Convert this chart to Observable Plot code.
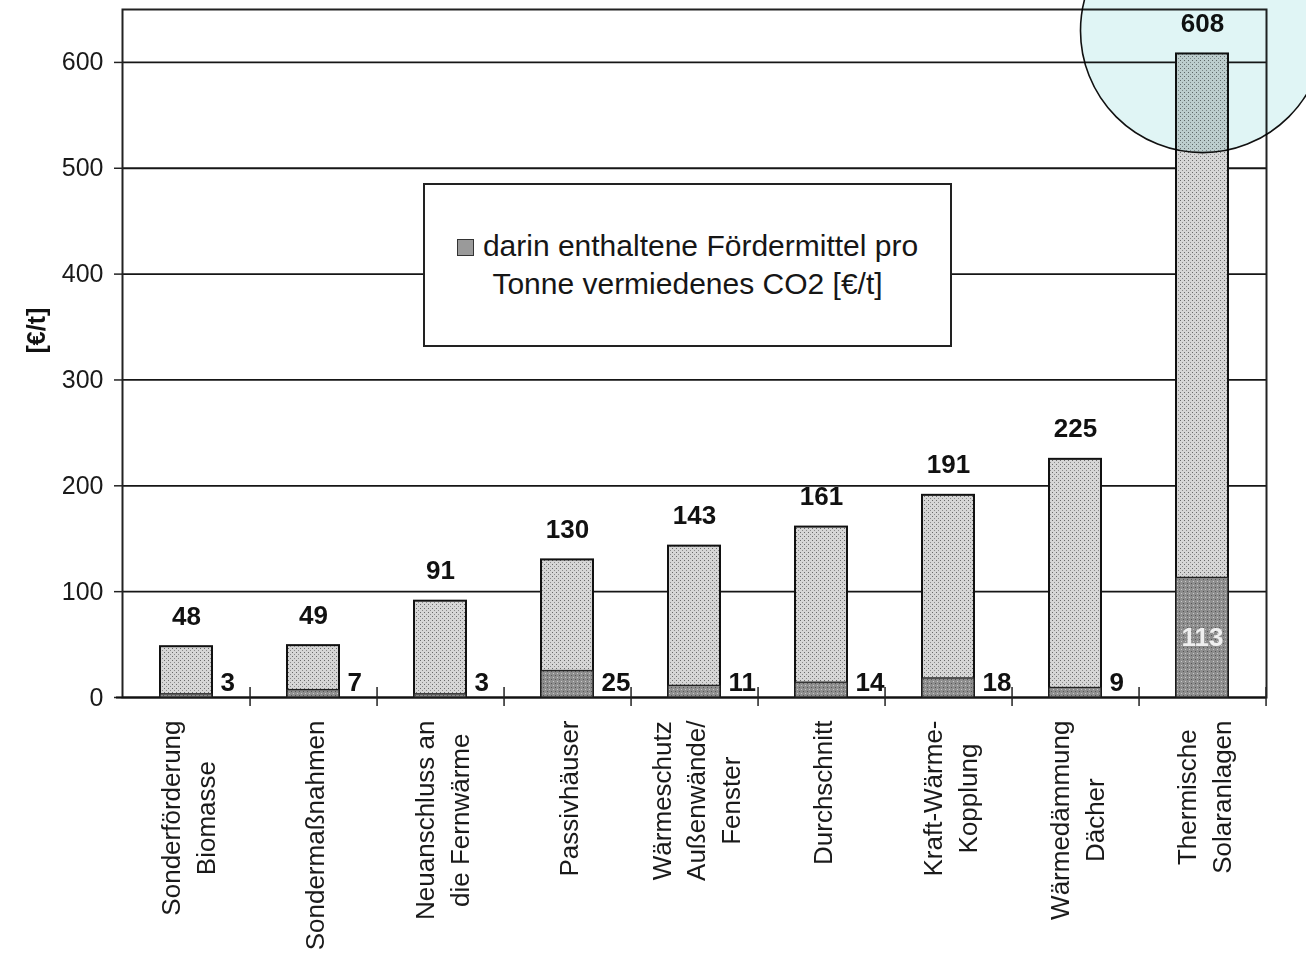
<!DOCTYPE html>
<html><head><meta charset="utf-8">
<script src="https://cdn.jsdelivr.net/npm/d3@7"></script>
<script src="https://cdn.jsdelivr.net/npm/@observablehq/plot@0.6"></script>
<style>
body{margin:0;background:#fff;font-family:"Liberation Sans",Arial,sans-serif;}
#wrap{position:relative;width:1306px;height:955px;overflow:hidden;}
#legend{position:absolute;left:423px;top:183px;width:525px;height:160px;border:2px solid #222;background:#fff;display:flex;align-items:center;justify-content:center;text-align:center;font-size:30px;line-height:38px;color:#161616;z-index:2;}
.sw{display:inline-block;width:15px;height:15px;border:1.5px solid #333;background:#9a9a9a;margin-right:9px;vertical-align:0px;}
</style></head><body>
<div id="wrap"><div id="legend"><div><span class="sw"></span>darin enthaltene Fördermittel pro<br>Tonne vermiedenes CO2 [€/t]</div></div></div>
<script>
const categories = [
  "Sonderförderung\nBiomasse",
  "Sondermaßnahmen",
  "Neuanschluss an\ndie Fernwärme",
  "Passivhäuser",
  "Wärmeschutz\nAußenwände/\nFenster",
  "Durchschnitt",
  "Kraft-Wärme-\nKopplung",
  "Wärmedämmung\nDächer",
  "Thermische\nSolaranlagen"
];
const totalValues = [48, 49, 91, 130, 143, 161, 191, 225, 608];
const subsidyValues = [3, 7, 3, 25, 11, 14, 18, 9, 113];
const yTicks = [0, 100, 200, 300, 400, 500, 600];
const yLabel = "[€/t]";
const highlightCategory = "Thermische\nSolaranlagen";
const highlightValue = 630;

const data = categories.map((c, i) => ({cat: c, total: totalValues[i], subsidy: subsidyValues[i]}));

const W = 1306, H = 955, mL = 122, mR = 40, mT = 9, mB = 258;
const step = (W - mL - mR) / categories.length;

const plot = Plot.plot({
  width: W, height: H,
  marginLeft: mL, marginRight: mR, marginTop: mT, marginBottom: mB,
  style: {fontFamily: "'Liberation Sans', Arial, sans-serif", background: "#fff", color: "#1a1a1a"},
  x: {domain: categories, paddingInner: 0.59, paddingOuter: 0.295, axis: null},
  y: {domain: [0, 650], axis: null},
  marks: [
    Plot.gridY(yTicks.slice(1), {stroke: "#161616", strokeOpacity: 1, strokeWidth: 1.8}),
    Plot.axisY({ticks: yTicks, tickSize: 8, tickPadding: 11, fontSize: 25, label: null, stroke: "#222", strokeWidth: 1.5, fill: "#1a1a1a"}),
    Plot.frame({stroke: "#222", strokeWidth: 2}),
    Plot.ruleY([0], {stroke: "#111", strokeWidth: 2, insetLeft: -6}),
    Plot.ruleX(categories, {x: d => d, y1: 0, y2: 0, dx: step / 2, insetTop: -10, insetBottom: -9, stroke: "#222", strokeWidth: 1.5}),
    Plot.barY(data, {x: "cat", y: "total", fill: "url(#pLight)", stroke: "#111", strokeWidth: 2}),
    Plot.barY(data, {x: "cat", y: "subsidy", fill: "url(#pDark)", stroke: "#222", strokeWidth: 1.3}),
    Plot.text(data, {x: "cat", y: "total", text: d => String(d.total), dy: -22, lineAnchor: "bottom", fontWeight: "bold", fontSize: 26, fill: "#111"}),
    Plot.text(data.filter(d => d.subsidy < 50), {x: "cat", y: () => 0, text: d => String(d.subsidy), dx: 34, dy: -7, textAnchor: "start", lineAnchor: "bottom", fontWeight: "bold", fontSize: 26, fill: "#111"}),
    Plot.text(data.filter(d => d.subsidy >= 50), {x: "cat", y: d => d.subsidy / 2, text: d => String(d.subsidy), fontWeight: "bold", fontSize: 26, fill: "#f0f0f0"}),
    Plot.text(categories, {x: d => d, frameAnchor: "bottom", text: d => d, rotate: -90, textAnchor: "end", lineAnchor: "middle", lineHeight: 1.32, dy: 23, fontSize: 26, fill: "#1a1a1a", className: "xlab"}),
    Plot.text([yLabel], {frameAnchor: "left", text: d => d, rotate: -90, dx: -86, fontWeight: "bold", fontSize: 25, fill: "#111"}),
    Plot.dot([{cat: highlightCategory, v: highlightValue}], {x: "cat", y: "v", r: 122, fill: "#d6f1f1", fillOpacity: 0.75, stroke: "#111", strokeWidth: 1.6, mixBlendMode: "multiply"})
  ]
});

const wrap = document.getElementById("wrap");
wrap.insertBefore(plot, wrap.firstChild);

// patterns
const defs = d3.select(plot).insert("defs", ":first-child");
const pl = defs.append("pattern").attr("id", "pLight").attr("patternUnits", "userSpaceOnUse").attr("width", 4).attr("height", 4);
pl.append("rect").attr("width", 4).attr("height", 4).attr("fill", "#d6d6d6");
pl.append("rect").attr("x", 0).attr("y", 0).attr("width", 1).attr("height", 1).attr("fill", "#6a6a6a");
pl.append("rect").attr("x", 2).attr("y", 2).attr("width", 1).attr("height", 1).attr("fill", "#8a8a8a");
const pd = defs.append("pattern").attr("id", "pDark").attr("patternUnits", "userSpaceOnUse").attr("width", 4).attr("height", 4);
pd.append("rect").attr("width", 4).attr("height", 4).attr("fill", "#8e8e8e");
pd.append("rect").attr("x", 1).attr("y", 1).attr("width", 1).attr("height", 1).attr("fill", "#c8c8c8");
pd.append("rect").attr("x", 3).attr("y", 3).attr("width", 1).attr("height", 1).attr("fill", "#555");

// center multi-line rotated labels relative to each other
d3.select(plot).selectAll("g.xlab text").each(function() {
  const tsp = this.querySelectorAll("tspan");
  if (!tsp.length) return;
  let L = 0;
  tsp.forEach(t => { L = Math.max(L, t.getComputedTextLength()); });
  this.setAttribute("text-anchor", "middle");
  const tr = this.getAttribute("transform") || "";
  this.setAttribute("transform", tr + ` translate(${-L / 2},0)`);
});
</script>
</body></html>
